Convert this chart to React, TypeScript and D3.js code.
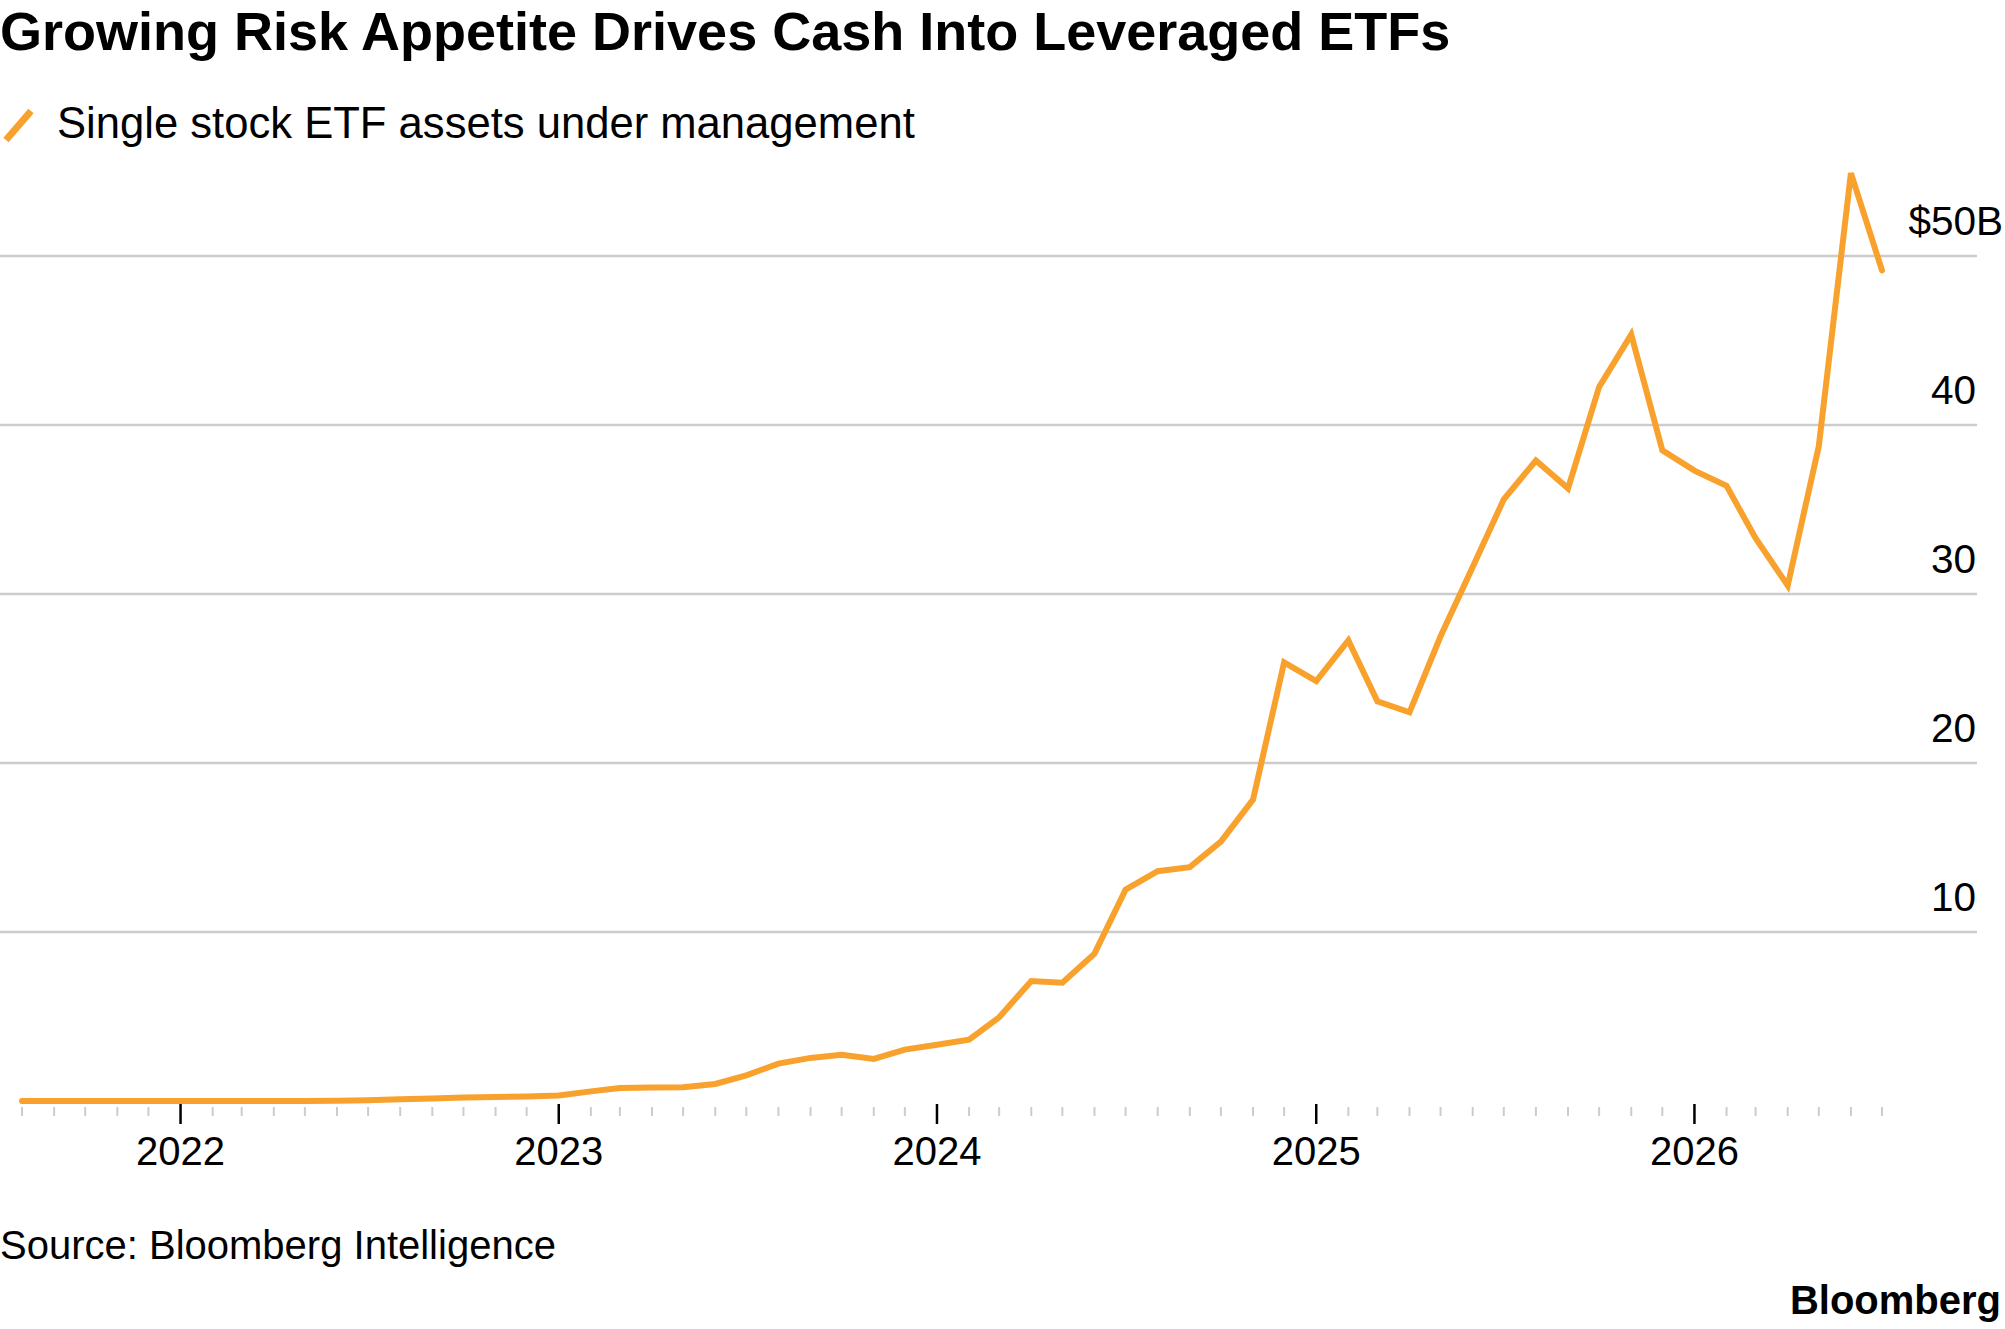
import React from 'react';
import * as d3 from 'd3';

const title = 'Growing Risk Appetite Drives Cash Into Leveraged ETFs';
const seriesName = 'Single stock ETF assets under management';
const sourceNote = 'Source: Bloomberg Intelligence';

// month-end assets, $ billions, one value per month from Jul 2021 to Jun 2026
const firstMonth = new Date(2021, 6, 1);
const aum = [
  0, 0, 0, 0, 0, 0, 0, 0, 0, 0, 0.02, 0.04,
  0.1, 0.15, 0.2, 0.23, 0.27, 0.32, 0.57, 0.77, 0.8, 0.81, 1.01, 1.52,
  2.21, 2.55, 2.74, 2.49, 3.04, 3.33, 3.63, 4.95, 7.1, 7.0, 8.72, 12.5,
  13.6, 13.84, 15.35, 17.83, 25.95, 24.85, 27.25, 23.65, 23.0, 27.5, 31.6, 35.6,
  37.9, 36.25, 42.25, 45.35, 38.5, 37.3, 36.4, 33.3, 30.5, 38.75, 54.9, 49.15,
];
const yTicks = [10, 20, 30, 40, 50];
const yearTicks = [2022, 2023, 2024, 2025, 2026];

const W = 2005;
const H = 1329;
const ORANGE = '#f9a12d';
const GRID = '#cccccc';
const FONT = '"Liberation Sans", Arial, Helvetica, sans-serif';

const App = () => {
  // each month-end value sits on the first day of the following month
  const points = aum.map((v, i) => ({
    date: d3.timeMonth.offset(firstMonth, i + 1),
    value: v,
  }));

  const x = d3.scaleTime()
    .domain([new Date(2021, 7, 1), new Date(2026, 6, 1)])
    .range([22, 1882]);

  const y = d3.scaleLinear()
    .domain([0, 50])
    .range([1101, 256]);

  const line = d3.line<{ date: Date; value: number }>()
    .x(d => x(d.date))
    .y(d => y(d.value));

  const monthTicks = d3.timeMonth.range(new Date(2021, 7, 1), new Date(2026, 6, 2));

  return (
    <svg width={W} height={H} style={{ position: 'absolute', left: 0, top: 0, background: '#fff' }}
      fontFamily={FONT}>
      <rect width={W} height={H} fill="#fff" />

      <text x={0} y={50} fontSize={54} fontWeight="bold" fill="#000">{title}</text>

      <line x1={6} y1={140} x2={31} y2={111} stroke={ORANGE} strokeWidth={7} />
      <text x={57} y={138} fontSize={43.6} fill="#000">{seriesName}</text>

      {yTicks.map(t => (
        <g key={t}>
          <line x1={0} x2={1977} y1={y(t)} y2={y(t)} stroke={GRID} strokeWidth={2.5} />
          <text x={1976} y={y(t) - 21} fontSize={40.5} textAnchor="end" fill="#000">
            {t === 50 ? '$50' : t}
          </text>
          {t === 50 && (
            <text x={1976} y={y(t) - 21} fontSize={40.5} fill="#000">B</text>
          )}
        </g>
      ))}

      {monthTicks.map(m => {
        const major = m.getMonth() === 0;
        return (
          <line key={m.getTime()} x1={x(m)} x2={x(m)}
            y1={major ? 1104 : 1107} y2={major ? 1124 : 1116}
            stroke={major ? '#000' : GRID} strokeWidth={major ? 2.5 : 2} />
        );
      })}

      {yearTicks.map(yr => (
        <text key={yr} x={x(new Date(yr, 0, 1))} y={1165} fontSize={40}
          textAnchor="middle" fill="#000">{yr}</text>
      ))}

      <path d={line(points) ?? ''} fill="none" stroke={ORANGE} strokeWidth={6}
        strokeLinejoin="miter" strokeLinecap="round" />

      <text x={0} y={1259} fontSize={40} fill="#000">{sourceNote}</text>
      <text x={2001} y={1314} fontSize={40} fontWeight="bold" textAnchor="end" fill="#000">Bloomberg</text>
    </svg>
  );
};

export default App;
